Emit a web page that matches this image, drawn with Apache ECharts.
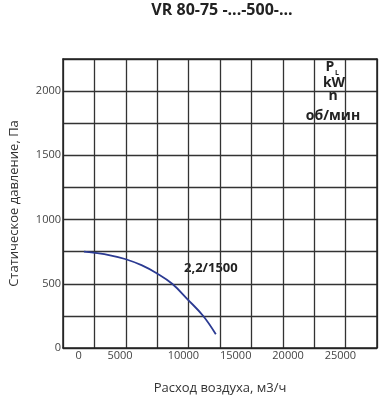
<!DOCTYPE html>
<html>
<head>
<meta charset="utf-8">
<script src="https://cdn.jsdelivr.net/npm/echarts@6/dist/echarts.min.js"></script>
<style>html,body{margin:0;padding:0;background:#fff;}#c{width:384px;height:400px;}</style>
</head>
<body>
<div id="c"></div>
<script>
var title = 'VR 80-75 -...-500-...';
var xName = 'Расход воздуха, м3/ч';
var yName = 'Статическое давление, Па';
var curveLabel = '2,2/1500';
var xTicks = [0, 5000, 10000, 15000, 20000, 25000];
var yTicks = [0, 500, 1000, 1500, 2000];
var flow = [500, 1400, 3000, 4430, 6000, 7450, 8930, 10450, 11900, 13100];
var pressure = [750, 742, 722, 693, 645, 582, 500, 375, 249, 107];

var chart = echarts.init(document.getElementById('c'));
var font = '"Open Sans", "Noto Sans", sans-serif';
chart.setOption({
  animation: false,
  grid: {left: 62, top: 59, right: 7, bottom: 47},
  xAxis: [{
    type: 'value', min: -1500, max: 28500,
    name: xName, nameLocation: 'middle', nameGap: 34,
    nameTextStyle: {fontFamily: font, fontSize: 13, color: '#333'},
    axisLine: {show: true, onZero: false, lineStyle: {color: '#222', width: 1.5}},
    axisTick: {show: false},
    splitLine: {show: false},
    axisLabel: {fontFamily: font, fontSize: 11, color: '#444', margin: 2,
      showMinLabel: false, showMaxLabel: false,
      rich: {l: {fontFamily: font, fontSize: 11, color: '#444', padding: [0, 22, 0, 0]}},
      formatter: function (v) {
        if (xTicks.indexOf(v) < 0) return '';
        return v === 5000 ? '{l|' + v + '}' : String(v);
      }}
  }, {
    type: 'value', min: 0, max: 10, interval: 1, position: 'top',
    axisLine: {show: true, onZero: false, lineStyle: {color: '#222', width: 1.5}},
    axisTick: {show: false}, axisLabel: {show: false},
    splitLine: {show: true, lineStyle: {color: '#333', width: 1.3}}
  }],
  yAxis: [{
    type: 'value', min: 0, max: 2250, interval: 250,
    name: yName, nameLocation: 'middle', nameGap: 42,
    nameTextStyle: {fontFamily: font, fontSize: 13, color: '#333'},
    axisLine: {show: true, onZero: false, lineStyle: {color: '#222', width: 1.5}},
    axisTick: {show: false},
    splitLine: {show: true, lineStyle: {color: '#333', width: 1.3}},
    axisLabel: {fontFamily: font, fontSize: 11, color: '#444', margin: 2,
      formatter: function (v) { return yTicks.indexOf(v) >= 0 ? String(v) : ''; }}
  }, {
    type: 'value', min: 0, max: 2250, position: 'right',
    axisLine: {show: true, onZero: false, lineStyle: {color: '#222', width: 1.5}},
    axisTick: {show: false}, axisLabel: {show: false}, splitLine: {show: false}
  }],
  series: [{
    type: 'line', xAxisIndex: 0, yAxisIndex: 0, smooth: 0.4, symbol: 'none',
    lineStyle: {color: '#2b3a92', width: 1.8},
    data: flow.map(function (f, i) { return [f, pressure[i]]; })
  }],
  graphic: [
    {type: 'text', x: 222, y: 10, style: {text: title, font: 'bold 16px ' + font, fill: '#222', align: 'center', verticalAlign: 'middle'}},
    {type: 'text', left: 184, top: 262, style: {text: curveLabel, font: 'bold 13px ' + font, fill: '#222'}},
    {type: 'text', x: 330, y: 67, style: {text: 'P', font: 'bold 14px ' + font, fill: '#222', align: 'center', verticalAlign: 'middle'}},
    {type: 'text', x: 337, y: 73, style: {text: 'L', font: 'bold 7px ' + font, fill: '#222', align: 'center', verticalAlign: 'middle'}},
    {type: 'text', x: 334, y: 83, style: {text: 'kW', font: 'bold 14px ' + font, fill: '#222', align: 'center', verticalAlign: 'middle'}},
    {type: 'text', x: 333, y: 96, style: {text: 'n', font: 'bold 14px ' + font, fill: '#222', align: 'center', verticalAlign: 'middle'}},
    {type: 'text', x: 333, y: 116, style: {text: 'об/мин', font: 'bold 14px ' + font, fill: '#222', align: 'center', verticalAlign: 'middle'}}
  ]
});
</script>
</body>
</html>
